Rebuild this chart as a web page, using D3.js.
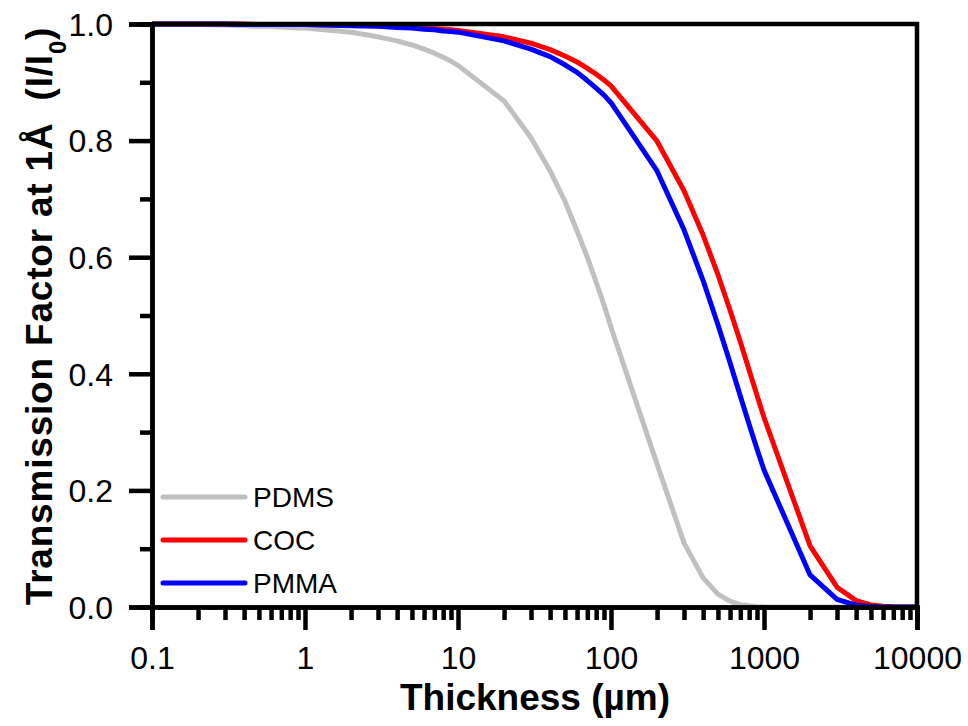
<!DOCTYPE html>
<html>
<head>
<meta charset="utf-8">
<script src="https://cdnjs.cloudflare.com/ajax/libs/d3/7.8.5/d3.min.js"></script>
<style>
  body { margin: 0; background: #fff; }
  text { font-family: "Liberation Sans", Arial, sans-serif; fill: #000; }
</style>
</head>
<body>
<div id="chart"></div>
<script>
// thickness (um) sampled at 1..9 per decade
var thickness = [0.1, 0.2, 0.3, 0.4, 0.5, 0.6, 0.7, 0.8, 0.9,
                 1, 2, 3, 4, 5, 6, 7, 8, 9,
                 10, 20, 30, 40, 50, 60, 70, 80, 90,
                 100, 200, 300, 400, 500, 600, 700, 800, 900,
                 1000, 2000, 3000, 4000, 5000, 6000, 7000, 8000, 9000,
                 10000];

var pdms = [0.999, 0.999, 0.998, 0.997, 0.996, 0.996, 0.995, 0.994, 0.993,
            0.993, 0.986, 0.978, 0.971, 0.964, 0.957, 0.950, 0.943, 0.936,
            0.929, 0.868, 0.805, 0.748, 0.696, 0.645, 0.600, 0.557, 0.518,
            0.480, 0.245, 0.110, 0.050, 0.022, 0.010, 0.004, 0.002, 0.001,
            0.0005, 0, 0, 0, 0, 0, 0, 0, 0,
            0];

var coc = [1.000, 1.000, 1.000, 1.000, 0.999, 0.999, 0.999, 0.999, 0.999,
           0.999, 0.998, 0.997, 0.996, 0.994, 0.993, 0.992, 0.991, 0.990,
           0.989, 0.978, 0.967, 0.956, 0.945, 0.935, 0.924, 0.914, 0.904,
           0.894, 0.799, 0.714, 0.638, 0.570, 0.509, 0.455, 0.406, 0.363,
           0.325, 0.105, 0.034, 0.011, 0.0036, 0.0012, 0.0004, 0.0001, 0,
           0];

var pmma = [1.000, 1.000, 1.000, 0.999, 0.999, 0.999, 0.999, 0.999, 0.999,
            0.999, 0.997, 0.996, 0.994, 0.993, 0.991, 0.990, 0.988, 0.987,
            0.986, 0.971, 0.957, 0.944, 0.930, 0.917, 0.903, 0.890, 0.878,
            0.865, 0.748, 0.647, 0.560, 0.484, 0.419, 0.362, 0.313, 0.271,
            0.235, 0.055, 0.013, 0.003, 0.0007, 0.0002, 0, 0, 0,
            0];

var seriesNames = ["PDMS", "COC", "PMMA"];
var seriesColors = ["#c0c0c0", "#ff0000", "#0000ff"];

var xMajor = [0.1, 1, 10, 100, 1000, 10000];
var yMajor = [0, 0.2, 0.4, 0.6, 0.8, 1.0];
var yMinor = [0.1, 0.3, 0.5, 0.7, 0.9];

var width = 968, height = 726;
var plotLeft = 152, plotRight = 917, plotTop = 24, plotBottom = 607;

var svg = d3.select("#chart").append("svg")
    .attr("width", width)
    .attr("height", height);

var x = d3.scaleLog().domain([0.1, 10000]).range([plotLeft, plotRight]);
var y = d3.scaleLinear().domain([0, 1]).range([plotBottom, plotTop]);

// minor x ticks 2..9 per decade
var xMinor = [];
xMajor.slice(0, -1).forEach(function(d) {
  for (var k = 2; k <= 9; k++) xMinor.push(d * k);
});

// curves
var line = d3.line()
    .x(function(d) { return x(d[0]); })
    .y(function(d) { return y(d[1]); });

[pdms, coc, pmma].forEach(function(vals, i) {
  svg.append("path")
    .datum(thickness.map(function(t, j) { return [t, vals[j]]; }))
    .attr("d", line)
    .attr("fill", "none")
    .attr("stroke", seriesColors[i])
    .attr("stroke-width", 5)
    .attr("stroke-linejoin", "round");
});

// frame (top and right)
svg.append("path")
  .attr("d", "M" + plotLeft + "," + plotTop + "H" + plotRight + "V" + plotBottom)
  .attr("fill", "none")
  .attr("stroke", "#000")
  .attr("stroke-width", 4.5);

// x axis
var gxMinor = svg.append("g").attr("transform", "translate(0," + plotBottom + ")")
    .call(d3.axisBottom(x).tickValues(xMinor).tickSize(13).tickFormat(""));
var gx = svg.append("g").attr("transform", "translate(0," + plotBottom + ")")
    .call(d3.axisBottom(x).tickValues(xMajor).tickSize(23)
      .tickFormat(function(d) { return d < 1 ? "0.1" : String(d); }));

// y axis
var gyMinor = svg.append("g").attr("transform", "translate(" + plotLeft + ",0)")
    .call(d3.axisLeft(y).tickValues(yMinor).tickSize(12).tickFormat(""));
var gy = svg.append("g").attr("transform", "translate(" + plotLeft + ",0)")
    .call(d3.axisLeft(y).tickValues(yMajor).tickSize(23).tickFormat(d3.format(".1f")));

svg.selectAll(".domain").attr("stroke-width", 4.5).attr("stroke", "#000");
svg.selectAll(".tick line").attr("stroke-width", 4.5).attr("stroke", "#000");
svg.selectAll(".tick text").style("font-size", "32px")
   .style("font-family", "'Liberation Sans', Arial, sans-serif").attr("fill", "#000");
gx.selectAll(".tick text").attr("y", 39).attr("dy", "0.71em");
gy.selectAll(".tick text").attr("x", -39).attr("dy", "0.35em");

// axis titles
svg.append("text")
  .attr("x", 535).attr("y", 710)
  .attr("text-anchor", "middle")
  .style("font-size", "37px").style("font-weight", "bold")
  .text("Thickness (\u00b5m)");

var yt = svg.append("text")
  .attr("transform", "translate(52,316) rotate(-90)")
  .attr("text-anchor", "middle")
  .style("font-size", "37px").style("font-weight", "bold")
  .style("letter-spacing", "0.8px");
yt.append("tspan").text("Transmission Factor at 1\u00c5\u00a0\u00a0(I/I");
yt.append("tspan").attr("baseline-shift", "sub").style("font-size", "24px").text("0");
yt.append("tspan").text(")");

// legend
var legend = svg.append("g");
seriesNames.forEach(function(name, i) {
  var ly = 497 + i * 43;
  legend.append("line")
    .attr("x1", 163).attr("x2", 245)
    .attr("y1", ly).attr("y2", ly)
    .attr("stroke", seriesColors[i])
    .attr("stroke-width", 5)
    .attr("stroke-linecap", "round");
  legend.append("text")
    .attr("x", 253).attr("y", ly).attr("dy", "0.35em")
    .style("font-size", "28px")
    .text(name);
});
</script>
</body>
</html>
